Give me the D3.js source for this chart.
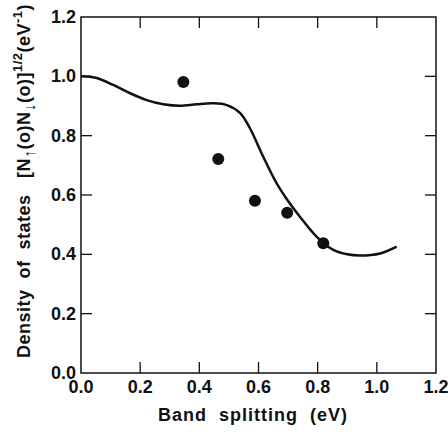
<!DOCTYPE html>
<html>
<head>
<meta charset="utf-8">
<script src="https://cdn.jsdelivr.net/npm/d3@7"></script>
<style>
  body { margin: 0; background: #fff; }
  text { font-family: "Liberation Sans", Arial, sans-serif; font-weight: bold; fill: #111; }
</style>
</head>
<body>
<div id="chart"></div>
<script>
var width = 448
var height = 432
var margin = {top: 17, right: 12, bottom: 59, left: 81}

// measured points
var pointX = [0.346, 0.464, 0.588, 0.697, 0.819]
var pointY = [0.981, 0.721, 0.581, 0.540, 0.437]

// theory curve
var curveX = [0, 0.05, 0.109, 0.166, 0.222, 0.278, 0.335, 0.391, 0.447, 0.493, 0.538, 0.571, 0.616, 0.661, 0.70, 0.74, 0.797, 0.853, 0.90, 0.943, 1.011, 1.067]
var curveY = [1.0, 0.995, 0.971, 0.943, 0.92, 0.906, 0.901, 0.906, 0.909, 0.903, 0.876, 0.825, 0.729, 0.64, 0.58, 0.527, 0.459, 0.415, 0.400, 0.396, 0.403, 0.426]

var xTicks = [0.0, 0.2, 0.4, 0.6, 0.8, 1.0, 1.2]
var yTicks = [0.0, 0.2, 0.4, 0.6, 0.8, 1.0, 1.2]

var svg = d3.select('#chart')
      .append('svg')
      .attr('width', width)
      .attr('height', height)

var x = d3.scaleLinear().domain([0, 1.2]).range([margin.left, width - margin.right])
var y = d3.scaleLinear().domain([0, 1.2]).range([height - margin.bottom, margin.top])

var fmt = d3.format('.1f')
var tickLen = 11

// frame
svg.append('rect')
  .attr('x', x(0)).attr('y', y(1.2))
  .attr('width', x(1.2) - x(0)).attr('height', y(0) - y(1.2))
  .attr('fill', 'none').attr('stroke', '#111').attr('stroke-width', 1.5)

// inward ticks on all four sides (skip the corners)
var inner = xTicks.slice(1, -1)
svg.selectAll('.tb').data(inner).enter().append('line')
  .attr('x1', d => x(d)).attr('x2', d => x(d))
  .attr('y1', y(0)).attr('y2', y(0) - tickLen)
  .attr('stroke', '#111').attr('stroke-width', 1.3)
svg.selectAll('.tt').data(inner).enter().append('line')
  .attr('x1', d => x(d)).attr('x2', d => x(d))
  .attr('y1', y(1.2)).attr('y2', y(1.2) + tickLen)
  .attr('stroke', '#111').attr('stroke-width', 1.3)
var innerY = yTicks.slice(1, -1)
svg.selectAll('.tl').data(innerY).enter().append('line')
  .attr('x1', x(0)).attr('x2', x(0) + tickLen)
  .attr('y1', d => y(d)).attr('y2', d => y(d))
  .attr('stroke', '#111').attr('stroke-width', 1.3)
svg.selectAll('.tr').data(innerY).enter().append('line')
  .attr('x1', x(1.2)).attr('x2', x(1.2) - tickLen)
  .attr('y1', d => y(d)).attr('y2', d => y(d))
  .attr('stroke', '#111').attr('stroke-width', 1.3)

// tick labels
svg.selectAll('.xl').data(xTicks).enter().append('text')
  .attr('x', d => x(d)).attr('y', y(0) + 20)
  .attr('text-anchor', 'middle')
  .style('font-size', '18px')
  .text(d => fmt(d))
svg.selectAll('.yl').data(yTicks).enter().append('text')
  .attr('x', x(0) - 5).attr('y', d => y(d) + 6)
  .attr('text-anchor', 'end')
  .style('font-size', '18px')
  .text(d => fmt(d))

// axis titles
svg.append('text')
  .attr('x', 253).attr('y', 421)
  .attr('text-anchor', 'middle')
  .style('font-size', '18px')
  .style('letter-spacing', '1px')
  .style('white-space', 'pre')
  .text('Band  splitting  (eV)')

var yt = svg.append('text')
  .attr('transform', 'translate(30,' + 181 + ') rotate(-90)')
  .attr('text-anchor', 'middle')
  .style('font-size', '18px')
  .style('letter-spacing', '0.5px')
  .style('white-space', 'pre')
yt.append('tspan').text('Density  of  states   [N')
yt.append('tspan').attr('dy', 5).style('font-size', '16px').text('↑')
yt.append('tspan').attr('dy', -5).text('(o)N')
yt.append('tspan').attr('dy', 5).style('font-size', '16px').text('↓')
yt.append('tspan').attr('dy', -5).text('(o)]')
yt.append('tspan').attr('dy', -8).style('font-size', '13px').text('1/2')
yt.append('tspan').attr('dy', 8).text('(eV')
yt.append('tspan').attr('dy', -8).style('font-size', '13px').text('-1')
yt.append('tspan').attr('dy', 8).text(')')

// curve
var line = d3.line()
  .x(d => x(d[0]))
  .y(d => y(d[1]))
  .curve(d3.curveCatmullRom)
svg.append('path')
  .datum(d3.zip(curveX, curveY))
  .attr('d', line)
  .attr('fill', 'none')
  .attr('stroke', '#111')
  .attr('stroke-width', 2.5)

// dots
svg.selectAll('.dot').data(d3.zip(pointX, pointY)).enter().append('circle')
  .attr('cx', d => x(d[0]))
  .attr('cy', d => y(d[1]))
  .attr('r', 6)
  .attr('fill', '#111')
</script>
</body>
</html>
